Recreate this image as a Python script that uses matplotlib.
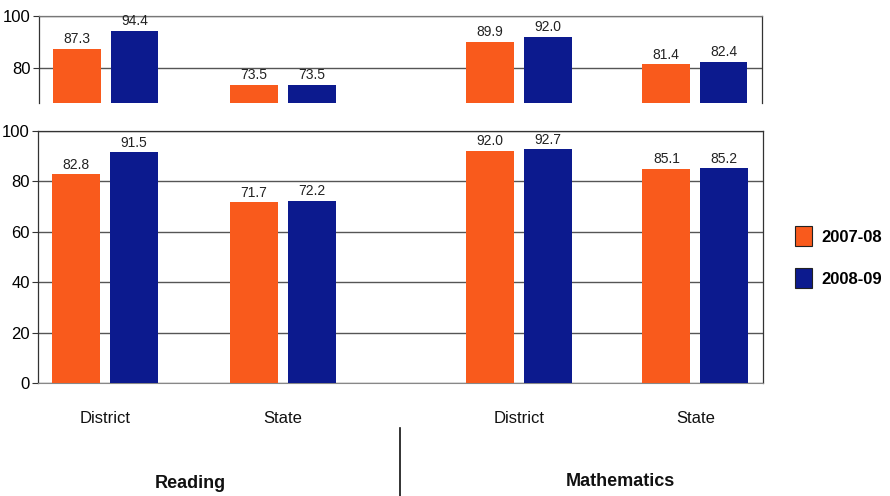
import matplotlib
matplotlib.use("Agg")
import matplotlib.pyplot as plt
from matplotlib.patches import Patch
from matplotlib.lines import Line2D
import numpy as np

categories = ["District", "State", "District", "State"]
subjects = ["Reading", "Mathematics"]
series_names = ["2007-08", "2008-09"]
top_2007 = [87.3, 73.5, 89.9, 81.4]
top_2008 = [94.4, 73.5, 92.0, 82.4]
bot_2007 = [82.8, 71.7, 92.0, 85.1]
bot_2008 = [91.5, 72.2, 92.7, 85.2]

orange = "#F95A1C"
blue = "#0C1A8E"
W, H = 890, 496

fig = plt.figure(figsize=(8.9, 4.96), dpi=100)
plt.rcParams['font.family'] = ['Liberation Sans Narrow', 'Liberation Sans', 'DejaVu Sans']

pos = np.array([0.0, 1.0, 2.33, 3.32])
bw = 0.27
off = 0.163
xlim = (-0.375, 3.70)

def fx(px):
    return px / W

def fy(py):
    return (H - py) / H

ax_top = fig.add_axes([fx(39), fy(103), fx(762) - fx(39), fy(16) - fy(103)])
ax_bot = fig.add_axes([fx(38), fy(383), fx(763) - fx(38), fy(131) - fy(383)])

for ax, s1, s2, ylim, ticks in [
    (ax_top, top_2007, top_2008, (66.5, 100), [80, 100]),
    (ax_bot, bot_2007, bot_2008, (0, 100), [0, 20, 40, 60, 80, 100]),
]:
    b1 = ax.bar(pos - off, s1, bw, color=orange, zorder=3)
    b2 = ax.bar(pos + off, s2, bw, color=blue, zorder=3)
    for bars, vals in [(b1, s1), (b2, s2)]:
        for b, v in zip(bars, vals):
            ax.annotate(f"{v:.1f}", (b.get_x() + b.get_width() / 2, v),
                        xytext=(0, 2), textcoords="offset points",
                        ha="center", va="bottom", fontsize=10,
                        family=['Liberation Sans', 'DejaVu Sans'],
                        color="#222222", clip_on=False, zorder=4)
    ax.set_xlim(*xlim)
    ax.set_ylim(*ylim)
    ax.set_yticks(ticks)
    ax.set_yticklabels([str(t) for t in ticks], fontsize=12,
                       family=['Liberation Sans', 'DejaVu Sans'])
    ax.set_xticks([])
    ax.yaxis.grid(True, color="#555555", linewidth=1.0, zorder=0)
    ax.tick_params(axis="y", length=4, width=0.8, color="#333333", pad=2)
    for side in ["left", "right", "top"]:
        ax.spines[side].set_color("#333333")
        ax.spines[side].set_linewidth(0.9)
    ax.spines["bottom"].set_color("#888888")

ax_top.spines["bottom"].set_visible(False)
ax_top.spines["top"].set_color("#777777")

# category labels
for p, c in zip(pos, categories):
    ax_bot.text(p, -0.14, c, transform=ax_bot.get_xaxis_transform(),
                ha="center", va="center", fontsize=12, color="#111111")

# subject labels
fig.text(fx(190), fy(484), subjects[0], ha="center", va="center",
         fontsize=13, fontweight="bold", color="#111111")
fig.text(fx(620), fy(482), subjects[1], ha="center", va="center",
         fontsize=13, fontweight="bold", color="#111111")
fig.add_artist(Line2D([fx(400), fx(400)], [fy(428), fy(496)],
                      color="#111111", linewidth=1.2))

handles = [Patch(facecolor=orange, edgecolor="#222222", linewidth=0.8),
           Patch(facecolor=blue, edgecolor="#222222", linewidth=0.8)]
leg = fig.legend(handles, series_names, loc="center left",
                 bbox_to_anchor=(fx(780), fy(257)), frameon=False,
                 handlelength=1.0, handleheight=1.5, labelspacing=1.3,
                 handletextpad=0.6,
                 prop={"size": 12, "weight": "bold"})

fig.savefig("out.png", dpi=100, facecolor="white")
